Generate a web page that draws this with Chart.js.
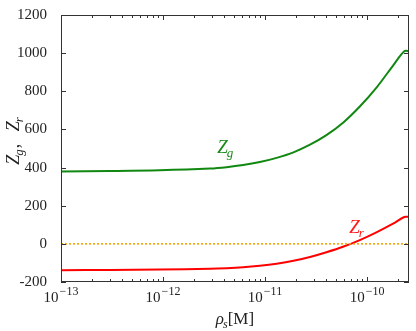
<!DOCTYPE html>
<html>
<head>
<meta charset="UTF-8">
<script src="https://cdn.jsdelivr.net/npm/chart.js@4.4.0/dist/chart.umd.min.js"></script>
<style>
  body { margin: 0; background: #fff; }
  #wrap { width: 416px; height: 331px; position: relative; }
</style>
</head>
<body>
<div id="wrap"><canvas id="myChart"></canvas></div>
<script>
// rho_s [M]
var rho = [1e-13, 3e-13, 9.3e-13, 2.9e-12, 4.2e-12, 6.1e-12, 8.9e-12, 1.3e-11, 1.9e-11, 2.76e-11, 4e-11, 5.9e-11, 8.5e-11, 1.25e-10, 1.8e-10, 2.32e-10, 2.58e-10];
var zg  = [380, 382, 386, 395, 402, 413, 429, 451, 480, 520, 570, 638, 720, 822, 935, 1010, 1010];
var zr  = [-138, -137, -134, -131, -128, -123, -115, -104, -89, -69, -44, -14, 20, 62, 106, 141, 141];
var zeroX = [1e-13, 2.58e-10];
var zeroY = [0, 0];
var yTicks = [-200, 0, 200, 400, 600, 800, 1000, 1200];
var xDecades = [-13, -12, -11, -10];

function pts(xs, ys) {
  return xs.map(function (x, i) { return { x: x, y: ys[i] }; });
}

var serif = '"Liberation Serif", "DejaVu Serif", serif';

// italic letter with subscript, returns width drawn
function mathSub(ctx, main, sub, x, y, size, color, measureOnly) {
  ctx.font = 'italic ' + size + 'px ' + serif;
  var w1 = ctx.measureText(main).width;
  ctx.font = 'italic ' + Math.round(size * 0.7) + 'px ' + serif;
  var w2 = ctx.measureText(sub).width;
  if (!measureOnly) {
    ctx.fillStyle = color;
    ctx.font = 'italic ' + size + 'px ' + serif;
    ctx.fillText(main, x, y);
    ctx.font = 'italic ' + Math.round(size * 0.7) + 'px ' + serif;
    ctx.fillText(sub, x + w1 - 1, y + size * 0.22);
  }
  return w1 - 1 + w2;
}

var decor = {
  id: 'decor',
  afterDraw: function (chart) {
    var ctx = chart.ctx;
    var a = chart.chartArea;
    var xs = chart.scales.x, ys = chart.scales.y;
    ctx.save();
    ctx.strokeStyle = '#333';
    ctx.lineWidth = 1;
    ctx.strokeRect(a.left + 0.5, a.top + 0.5, a.right - a.left - 1, a.bottom - a.top - 1);

    // x ticks, inward on bottom and top
    ctx.beginPath();
    xDecades.forEach(function (e) {
      for (var m = 1; m <= 9; m++) {
        var v = m * Math.pow(10, e);
        if (v < xs.min * 0.999 || v > xs.max) continue;
        var px = Math.round(xs.getPixelForValue(v)) + 0.5;
        var len = m === 1 ? 5 : 3;
        ctx.moveTo(px, a.bottom); ctx.lineTo(px, a.bottom - len);
        ctx.moveTo(px, a.top); ctx.lineTo(px, a.top + len);
      }
    });
    yTicks.forEach(function (v) {
      var py = Math.round(ys.getPixelForValue(v)) + 0.5;
      ctx.moveTo(a.left, py); ctx.lineTo(a.left + 5, py);
      ctx.moveTo(a.right, py); ctx.lineTo(a.right - 5, py);
    });
    ctx.stroke();

    // x tick labels 10^e
    ctx.fillStyle = '#222';
    ctx.textBaseline = 'alphabetic';
    ctx.textAlign = 'left';
    xDecades.forEach(function (e) {
      var px = xs.getPixelForValue(Math.pow(10, e));
      var base = '10', exp = '\u2212' + Math.abs(e);
      ctx.font = '15px ' + serif;
      var w1 = ctx.measureText(base).width;
      ctx.font = '12px ' + serif;
      var w2 = ctx.measureText(exp).width;
      var x0 = px - (w1 + 1 + w2) / 2;
      ctx.font = '15px ' + serif;
      ctx.fillText(base, x0, 302);
      ctx.font = '12px ' + serif;
      ctx.fillText(exp, x0 + w1 + 1, 295);
    });

    // x axis title: rho_s [M]
    var w = mathSub(ctx, '\u03c1', 's', 0, 0, 17, '#222', true);
    ctx.font = '17px ' + serif;
    var wm = ctx.measureText('[M]').width;
    var tx = (a.left + a.right) / 2 - (w + wm) / 2;
    mathSub(ctx, '\u03c1', 's', tx, 324, 17, '#222');
    ctx.font = '17px ' + serif;
    ctx.fillStyle = '#222';
    ctx.fillText('[M]', tx + w, 324);

    // y axis title: Z_g, Z_r (rotated)
    ctx.save();
    ctx.translate(19, 141);
    ctx.rotate(-Math.PI / 2);
    var wa = mathSub(ctx, 'Z', 'g', 0, 0, 18, '#222', true);
    ctx.font = '18px ' + serif;
    var wc = ctx.measureText(',   ').width;
    var wb = mathSub(ctx, 'Z', 'r', 0, 0, 18, '#222', true);
    var sx = -(wa + wc + wb) / 2;
    mathSub(ctx, 'Z', 'g', sx, 0, 18, '#222');
    ctx.font = '18px ' + serif;
    ctx.fillStyle = '#222';
    ctx.fillText(',', sx + wa + 1, 0);
    mathSub(ctx, 'Z', 'r', sx + wa + wc, 0, 18, '#222');
    ctx.restore();

    // curve labels
    mathSub(ctx, 'Z', 'g', xs.getPixelForValue(3.4e-12), ys.getPixelForValue(475), 19, '#1a8a1a');
    mathSub(ctx, 'Z', 'r', xs.getPixelForValue(6.7e-11), ys.getPixelForValue(57), 19, '#ff1a1a');
    ctx.restore();
  }
};

var ctx = document.getElementById('myChart').getContext('2d');
var myChart = new Chart(ctx, {
  type: 'line',
  data: {
    datasets: [{
      label: 'zero',
      data: pts(zeroX, zeroY),
      borderColor: '#f0a30a',
      borderWidth: 1.6,
      borderDash: [2, 2],
      pointRadius: 0
    }, {
      label: 'Zg',
      data: pts(rho, zg),
      borderColor: '#118811',
      borderWidth: 2,
      pointRadius: 0,
      tension: 0.35
    }, {
      label: 'Zr',
      data: pts(rho, zr),
      borderColor: '#ff0000',
      borderWidth: 2,
      pointRadius: 0,
      tension: 0.35
    }]
  },
  options: {
    responsive: true,
    maintainAspectRatio: false,
    animation: false,
    devicePixelRatio: 1,
    layout: { padding: { top: 13, right: 7, left: 0, bottom: 0 } },
    plugins: { legend: { display: false }, tooltip: { enabled: false } },
    scales: {
      x: {
        type: 'logarithmic',
        min: 1e-13,
        max: 2.58e-10,
        ticks: { display: false },
        grid: { display: false },
        border: { display: false },
        afterFit: function (s) { s.height = 49; }
      },
      y: {
        min: -200,
        max: 1200,
        ticks: {
          stepSize: 200,
          padding: 6,
          color: '#222',
          font: { family: serif, size: 15 },
          callback: function (v) { return String(v); }
        },
        grid: { display: false },
        border: { display: false },
        afterFit: function (s) { s.width = 61; }
      }
    }
  },
  plugins: [decor]
});
</script>
</body>
</html>
